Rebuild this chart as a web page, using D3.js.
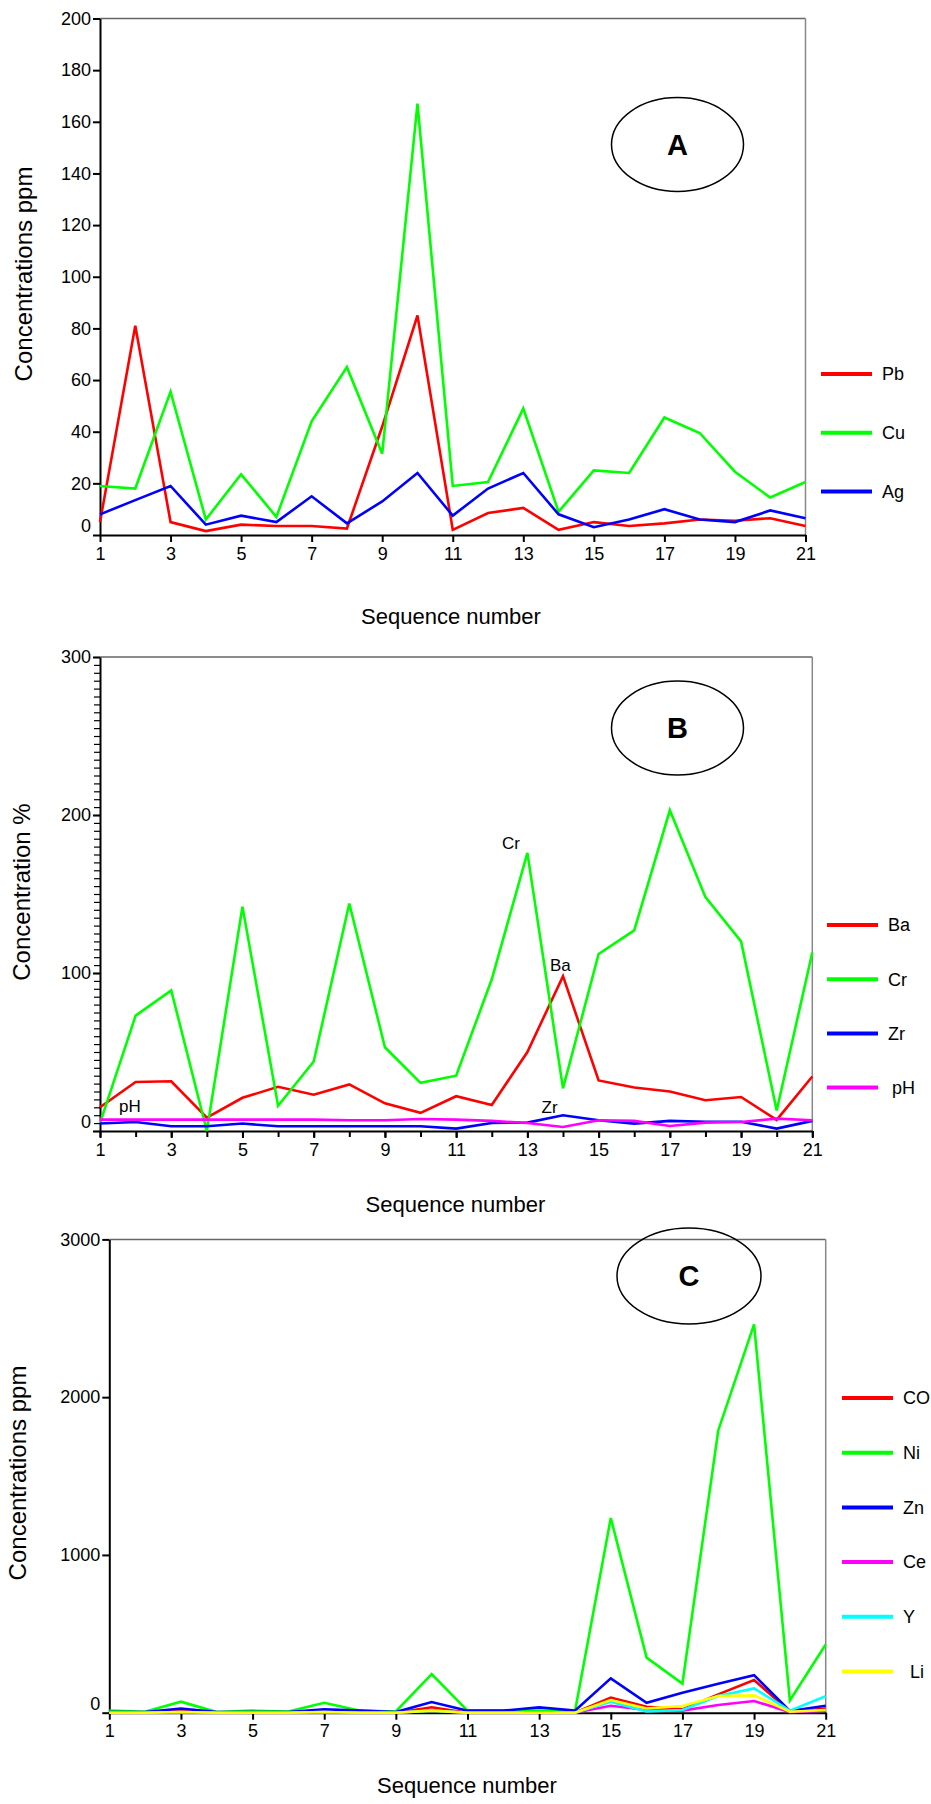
<!DOCTYPE html>
<html>
<head>
<meta charset="utf-8">
<script src="https://cdn.jsdelivr.net/npm/d3@7"></script>
<style>
body { margin: 0; background: #fff; }
svg { display: block; font-family: "Liberation Sans", Arial, sans-serif; }
</style>
</head>
<body>
<svg width="931" height="1804"></svg>
<script>
// sequence numbers (x axis) shared by all three panels
var seq = [1,2,3,4,5,6,7,8,9,10,11,12,13,14,15,16,17,18,19,20,21];
var xTickLabels = [1,3,5,7,9,11,13,15,17,19,21];

// panel A, ppm
var pb = [5, 81, 5, 1.5, 4, 3.5, 3.5, 2.5, 42, 85, 2, 8.5, 10.5, 2, 5, 3.5, 4.5, 6, 5.5, 6.5, 3.5];
var cu = [19, 18, 55.5, 6, 23.5, 7, 44, 65, 31.5, 167, 19, 20.5, 49, 9, 25, 24, 45.5, 39.5, 24.5, 14.5, 20.5];
var ag = [8, 13.5, 19, 4, 7.5, 5, 15, 4.5, 13, 24, 7.5, 18, 24, 8, 3, 6, 10, 6, 5, 9.5, 6.5];
var yTicksA = [0,20,40,60,80,100,120,140,160,180,200];

// panel B, %
var ba = [15, 31, 31.5, 8.5, 21, 28, 23, 29.5, 17.5, 11.5, 22, 16.5, 50, 98, 32, 27.5, 25, 19.5, 21.5, 7, 34.5];
var cr = [5, 73, 89, 0, 142, 16, 44, 144, 53, 30.5, 35, 96, 176, 27, 112, 127, 203, 148, 120, 13, 113];
var zr = [4.7, 5.7, 3, 3, 4.7, 3, 3, 3, 3, 3, 1.5, 5.1, 5.3, 10, 6.8, 4.7, 6.4, 5.9, 5.9, 1.5, 6.4];
var ph = [7.2, 7.2, 7.2, 7.2, 7.2, 7.2, 7.2, 6.8, 6.8, 7.6, 7.2, 6.4, 5.1, 2.5, 6.8, 6.4, 3.2, 5.3, 5.7, 7.8, 6.8];
var yTicksB = [0,100,200,300];

// panel C, ppm
var co = [0, 0, 13, 0, 0, 0, 13, 0, 0, 34, 0, 0, 0, 0, 95, 38, 21, 116, 207, 6, 27];
var ni = [13, 6, 70, 4, 13, 8, 63, 13, 8, 245, 13, 13, 13, 8, 1234, 349, 184, 1789, 2461, 78, 432];
var zn = [4, 4, 27, 4, 4, 4, 21, 13, 4, 68, 13, 13, 34, 13, 218, 63, 127, 184, 238, 11, 44];
var ce = [0, 0, 4, 0, 0, 0, 4, 0, 0, 17, 0, 0, 0, 0, 44, 17, 13, 49, 74, 4, 13];
var yy = [0, 0, 4, 0, 0, 0, 4, 0, 0, 13, 0, 0, 0, 0, 70, 8, 17, 106, 154, 13, 104];
var li = [0, 0, 4, 0, 0, 0, 4, 0, 0, 13, 0, 0, 0, 0, 80, 27, 42, 106, 110, 6, 17];
var yTicksC = [0,1000,2000,3000];

var svg = d3.select("svg");

function drawPanel(p) {
  var x = d3.scaleLinear().domain([1, 21]).range([p.left, p.right]);
  var y = d3.scaleLinear().domain([0, p.ymax]).range([p.bottom, p.top]);
  var g = svg.append("g");

  // frame (top + right)
  g.append("line").attr("x1", p.left).attr("x2", p.right).attr("y1", p.top).attr("y2", p.top)
      .attr("stroke", "#666").attr("stroke-width", 1.5);
  g.append("line").attr("x1", p.right).attr("x2", p.right).attr("y1", p.top).attr("y2", p.bottom)
      .attr("stroke", "#888").attr("stroke-width", 1.5);

  // minor ticks
  if (p.minorY) {
    g.append("g").attr("transform", "translate(" + p.left + ",0)")
      .call(d3.axisLeft(y).tickValues(d3.range(0, p.ymax + 1, p.minorY)).tickSize(6).tickSizeOuter(0).tickFormat(""))
      .call(function(a) { a.select(".domain").remove(); a.selectAll("line").attr("stroke-width", 1.2); });
  }
  if (p.minorX) {
    g.append("g").attr("transform", "translate(0," + p.bottom + ")")
      .call(d3.axisBottom(x).tickValues(seq).tickSize(6).tickSizeOuter(0).tickFormat(""))
      .call(function(a) { a.select(".domain").remove(); a.selectAll("line").attr("stroke-width", 2); });
  }

  var ya = g.append("g").attr("transform", "translate(" + p.left + ",0)")
      .call(d3.axisLeft(y).tickValues(p.yticks).tickSize(7).tickSizeOuter(0).tickPadding(2).tickFormat(d3.format("d")));
  var xa = g.append("g").attr("transform", "translate(0," + p.bottom + ")")
      .call(d3.axisBottom(x).tickValues(xTickLabels).tickSize(7).tickSizeOuter(0).tickPadding(5));

  [ya, xa].forEach(function(a) {
    a.attr("font-family", null).attr("font-size", 18);
    a.select(".domain").attr("stroke-width", 2);
    a.selectAll(".tick line").attr("stroke-width", 2);
  });
  ya.selectAll(".tick text").filter(function(d) { return d === 0; }).attr("y", -9);

  // lines
  var line = d3.line().x(function(d, i) { return x(seq[i]); }).y(function(d) { return y(d); });
  p.series.forEach(function(s) {
    g.append("path").datum(s.values)
      .attr("fill", "none").attr("stroke", s.color).attr("stroke-width", 2.6)
      .attr("stroke-linejoin", "miter").attr("d", line);
  });

  // legend
  p.series.forEach(function(s, i) {
    var ly = p.legY + i * p.legStep;
    g.append("line").attr("x1", p.legX).attr("x2", p.legX + 51).attr("y1", ly).attr("y2", ly)
      .attr("stroke", s.color).attr("stroke-width", 4);
    g.append("text").attr("x", p.legX + 61 + (s.dx || 0)).attr("y", ly).attr("dy", "0.35em")
      .attr("font-size", 18).text(s.name);
  });

  // circled letter
  g.append("ellipse").attr("cx", p.cx).attr("cy", p.cy).attr("rx", p.rx).attr("ry", p.ry)
    .attr("fill", "none").attr("stroke", "#000").attr("stroke-width", 1.5);
  g.append("text").attr("x", p.cx).attr("y", p.cy).attr("dy", "0.36em").attr("text-anchor", "middle")
    .attr("font-size", 29).attr("font-weight", "bold").text(p.letter);

  // axis titles
  g.append("text").attr("transform", "translate(" + p.ytX + "," + p.ytY + ") rotate(-90)")
    .attr("text-anchor", "middle").attr("font-size", 24).text(p.ytitle);
  g.append("text").attr("x", p.xtX).attr("y", p.xtY).attr("text-anchor", "middle")
    .attr("font-size", 22).text("Sequence number");

  (p.notes || []).forEach(function(n) {
    g.append("text").attr("x", n.x).attr("y", n.y).attr("font-size", 17).text(n.t);
  });
}

drawPanel({
  left: 100, right: 805.5, top: 18.5, bottom: 535, ymax: 200, yticks: yTicksA,
  series: [
    {name: "Pb", color: "#ff0000", values: pb},
    {name: "Cu", color: "#00ff00", values: cu},
    {name: "Ag", color: "#0000ff", values: ag}
  ],
  legX: 821, legY: 374, legStep: 58.8,
  cx: 677.5, cy: 144.5, rx: 66, ry: 47, letter: "A",
  ytitle: "Concentrations ppm", ytX: 32, ytY: 274,
  xtX: 451, xtY: 624
});

drawPanel({
  left: 100, right: 812.3, top: 657, bottom: 1131, ymax: 300, yticks: yTicksB, minorY: 5, minorX: true,
  series: [
    {name: "Ba", color: "#ff0000", values: ba},
    {name: "Cr", color: "#00ff00", values: cr},
    {name: "Zr", color: "#0000ff", values: zr},
    {name: "pH", color: "#ff00ff", values: ph, dx: 4}
  ],
  legX: 827, legY: 925, legStep: 54.2,
  cx: 677.5, cy: 728, rx: 66, ry: 47, letter: "B",
  ytitle: "Concentration %", ytX: 29.5, ytY: 892,
  xtX: 455.5, xtY: 1212,
  notes: [
    {t: "Cr", x: 502, y: 849},
    {t: "Ba", x: 550, y: 970.5},
    {t: "Zr", x: 541.5, y: 1113},
    {t: "pH", x: 119, y: 1112}
  ]
});

drawPanel({
  left: 109.3, right: 825.7, top: 1239.4, bottom: 1712.7, ymax: 3000, yticks: yTicksC,
  series: [
    {name: "CO", color: "#ff0000", values: co},
    {name: "Ni", color: "#00ff00", values: ni},
    {name: "Zn", color: "#0000ff", values: zn},
    {name: "Ce", color: "#ff00ff", values: ce},
    {name: "Y", color: "#00ffff", values: yy},
    {name: "Li", color: "#ffff00", values: li, dx: 7}
  ],
  legX: 842, legY: 1398, legStep: 54.7,
  cx: 689, cy: 1276, rx: 72, ry: 48, letter: "C",
  ytitle: "Concentrations ppm", ytX: 26, ytY: 1473,
  xtX: 467, xtY: 1793
});
</script>
</body>
</html>
